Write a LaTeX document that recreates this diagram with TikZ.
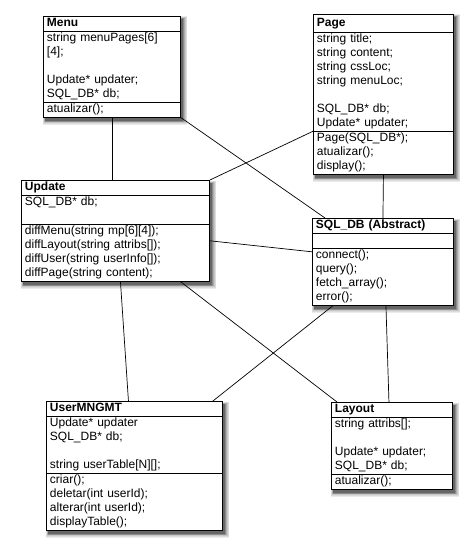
\documentclass[tikz,border=0pt]{standalone}
\usepackage{fontspec}
\setmainfont{Liberation Sans}
\usetikzlibrary{shapes.multipart,backgrounds}

\begin{document}
\begin{tikzpicture}[x=1pt,y=-1pt,
	classbox/.style={draw,line width=0.9pt,fill=white,rectangle split,rectangle split parts=3,
		align=left,anchor=north west,inner xsep=3.5pt,inner ysep=0pt,
		font=\fontsize{12}{14}\selectfont},
	link/.style={line width=0.7pt}]
	\useasboundingbox (0,0) rectangle (473,551);

	\node[classbox,text width=130pt] (menu) at (43,16)
		{\strut\textbf{Menu}
		\nodepart{two}\strut string menuPages[6]\\{}[4];\\[14pt]Update* updater;\\SQL\_DB* db;\strut
		\nodepart{three}\strut atualizar();};
	\node[classbox,text width=133pt] (page) at (313,14)
		{\rule[-5pt]{0pt}{17pt}\textbf{Page}
		\nodepart{two}\strut string title;\\string content;\\string cssLoc;\\string menuLoc;\\[14pt]SQL\_DB* db;\\Update* updater;\strut
		\nodepart{three}\strut Page(SQL\_DB*);\\atualizar();\\display();\strut};
	\node[classbox,text width=181pt] (update) at (21,180)
		{\strut\textbf{Update}
		\nodepart{two}\strut SQL\_DB* db;\\\strut
		\nodepart{three}\strut diffMenu(string mp[6][4]);\\diffLayout(string attribs[]);\\diffUser(string userInfo[]);\\diffPage(string content);\strut};
	\node[classbox,text width=134pt] (sqldb) at (312,218)
		{\strut\textbf{SQL\_DB (Abstract)}
		\nodepart{two}\strut
		\nodepart{three}\strut connect();\\query();\\fetch\_array();\\error();\strut};
	\node[classbox,text width=169pt] (usermngmt) at (46,401)
		{\strut\textbf{UserMNGMT}
		\nodepart{two}\strut Update* updater\\SQL\_DB* db;\\[14pt]string userTable[N][];\strut
		\nodepart{three}\strut criar();\\deletar(int userId);\\alterar(int userId);\\displayTable();\strut};
	\node[classbox,text width=114pt] (layout) at (331,402)
		{\strut\textbf{Layout}
		\nodepart{two}\strut string attribs[];\\[14pt]Update* updater;\\SQL\_DB* db;\strut
		\nodepart{three}\strut atualizar();};

	\begin{scope}[on background layer]
		\foreach \n in {menu,page,update,sqldb,usermngmt,layout}
			\foreach \r/\c in {5/8,4/14,3/22,2/32,1/45,0/60}
				\fill[black!\c] ([xshift=2-0.5*\r,yshift=-3+0.5*\r]\n.north west) rectangle ([xshift=2+0.9*\r,yshift=-3-0.9*\r]\n.south east);
	\end{scope}

	\draw[link] (menu.south) -- (menu.south |- update.north);
	\draw[link] (menu.south east) -- ([xshift=13pt]sqldb.north west);
	\draw[link] (page.two split west) -- (update.north east);
	\draw[link] (page.south) -- (sqldb.north);
	\draw[link] ([yshift=-10pt]update.east) -- ([yshift=10pt]sqldb.west);
	\draw[link] ([xshift=5pt]update.south) -- ([xshift=-6pt]usermngmt.north);
	\draw[link] ([xshift=65pt]update.south) -- ([xshift=6pt]layout.north west);
	\draw[link] ([xshift=21pt]sqldb.south west) -- ([xshift=-10pt]usermngmt.north east);
	\draw[link] ([xshift=3pt]sqldb.south) -- ([xshift=-3pt]layout.north);

\end{tikzpicture}
\end{document}
